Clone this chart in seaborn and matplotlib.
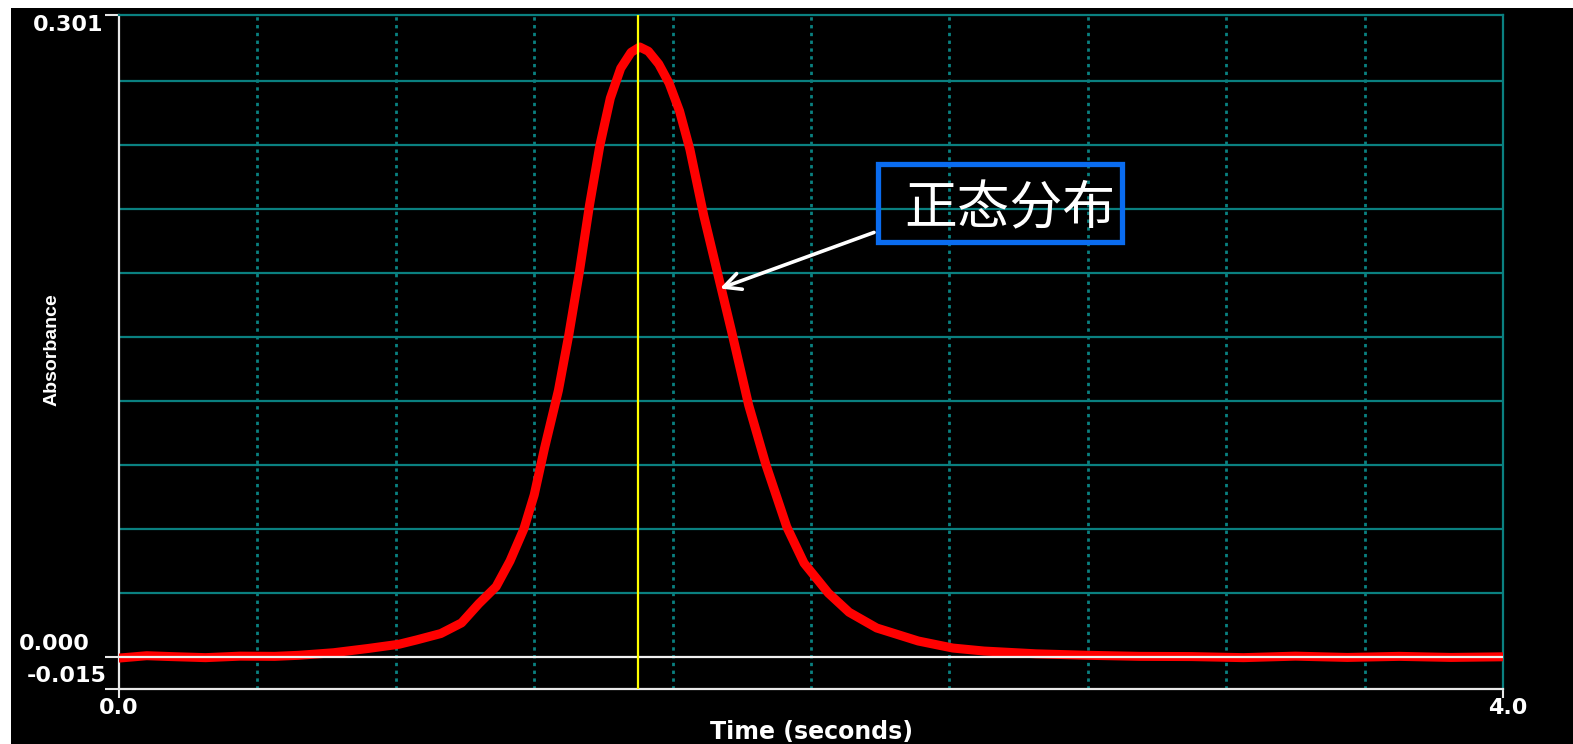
import numpy as np
import pandas as pd
import matplotlib
matplotlib.use("Agg")
import matplotlib.pyplot as plt
from matplotlib.patches import Rectangle
import seaborn as sns

# ---------------- data ----------------
time_s = [0.00, 0.08, 0.15, 0.25, 0.35, 0.45, 0.52, 0.62, 0.72, 0.81, 0.86, 0.93,
          0.99, 1.04, 1.09, 1.13, 1.17, 1.20, 1.23, 1.27, 1.30, 1.33, 1.36, 1.39,
          1.42, 1.45, 1.48, 1.505, 1.53, 1.56, 1.59, 1.62, 1.65, 1.69, 1.73, 1.77,
          1.82, 1.87, 1.93, 1.98, 2.05, 2.11, 2.19, 2.31, 2.41, 2.50, 2.65, 2.80,
          2.95, 3.10, 3.25, 3.40, 3.55, 3.70, 3.85, 4.00]
absorbance = [-0.0005, 0.0006, 0.0002, -0.0003, 0.0004, 0.0003, 0.0008, 0.0020,
              0.0040, 0.0060, 0.0080, 0.0110, 0.0160, 0.0250, 0.0330, 0.0450,
              0.0600, 0.0760, 0.0980, 0.1250, 0.1510, 0.1800, 0.2120, 0.2400,
              0.2620, 0.2760, 0.2835, 0.2860, 0.2840, 0.2780, 0.2690, 0.2560,
              0.2380, 0.2070, 0.1800, 0.1530, 0.1180, 0.0900, 0.0610, 0.0440,
              0.0300, 0.0210, 0.0136, 0.0075, 0.0042, 0.0028, 0.0015, 0.0008,
              0.0003, 0.0002, -0.0003, 0.0004, -0.0002, 0.0003, -0.0002, 0.0001]

y_tick_values = [-0.015, 0.000, 0.301]
y_tick_labels = ["-0.015", "0.000", "0.301"]
x_tick_values = [0.0, 4.0]
x_tick_labels = ["0.0", "4.0"]
h_grid_values = [0.03, 0.06, 0.09, 0.12, 0.15, 0.18, 0.21, 0.24, 0.27]
v_grid_values = [0.4, 0.8, 1.2, 1.6, 2.0, 2.4, 2.8, 3.2, 3.6]
marker_time = 1.5
annotation_text = "正态分布"
x_label = "Time (seconds)"
y_label = "Absorbance"

df = pd.DataFrame({"time": time_s, "absorbance": absorbance})

# ---------------- style ----------------
sns.set_theme(style="dark")
plt.rcParams["font.family"] = ["DejaVu Sans"]

W, H = 1573, 744
fig = plt.figure(figsize=(W / 100, H / 100), dpi=100)
fig.patch.set_facecolor("white")
fig.add_artist(Rectangle((11 / W, 0), 1 - 11 / W, 1 - 8 / H,
                         transform=fig.transFigure, facecolor="black",
                         edgecolor="none", zorder=-10))

x0, x1 = 119, 1503
ytop, ybot = 15, 689
ax = fig.add_axes([x0 / W, 1 - ybot / H, (x1 - x0) / W, (ybot - ytop) / H])
ax.set_facecolor("black")
ax.set_xlim(0, 4.0)
ax.set_ylim(-0.015, 0.301)

teal = "#0a8080"

# grid
ax.set_yticks(h_grid_values, minor=True)
ax.set_xticks(v_grid_values, minor=True)
ax.yaxis.grid(True, which="minor", color=teal, linewidth=1.6, linestyle="-")
ax.xaxis.grid(True, which="minor", color=teal, linewidth=2.0,
              linestyle=(0, (1.2, 1.6)))
ax.yaxis.grid(False, which="major")
ax.xaxis.grid(False, which="major")
ax.set_axisbelow(True)

# curve
sns.lineplot(data=df, x="time", y="absorbance", ax=ax, color="#ff0000",
             linewidth=6.5, sort=True, estimator=None, zorder=3)

# zero line and marker line
ax.axhline(0.0, color="#f0f0f0", linewidth=1.6, zorder=4)
ax.axvline(marker_time, color="#ffff00", linewidth=1.6, zorder=5)

# spines
for side in ["left", "bottom"]:
    ax.spines[side].set_color("#e8e8e8")
    ax.spines[side].set_linewidth(1.6)
for side in ["top", "right"]:
    ax.spines[side].set_color(teal)
    ax.spines[side].set_linewidth(1.6)

# ticks (marks only), labels as text
ax.set_yticks(y_tick_values)
ax.set_yticklabels([])
ax.set_xticks(x_tick_values)
ax.set_xticklabels([])
ax.tick_params(axis="y", which="major", left=True, direction="out",
               length=10, width=1.5, color="#e8e8e8")
ax.tick_params(axis="x", which="major", bottom=True, direction="out",
               length=6.5, width=1.5, color="#e8e8e8")
ax.tick_params(which="minor", length=0)

lab_kw = dict(color="white", fontsize=16, fontweight="bold",
              family=["DejaVu Sans"])
ytrans = ax.get_yaxis_transform()
xtrans = ax.get_xaxis_transform()
ax.text((103 - x0) / (x1 - x0), 0.301 - 10 / 2130, y_tick_labels[2],
        transform=ytrans, ha="right", va="center", clip_on=False, **lab_kw)
ax.text((90 - x0) / (x1 - x0), 12.5 / 2130, y_tick_labels[1],
        transform=ytrans, ha="right", va="center", clip_on=False, **lab_kw)
ax.text((107 - x0) / (x1 - x0), -0.015 + 12.5 / 2130, y_tick_labels[0],
        transform=ytrans, ha="right", va="center", clip_on=False, **lab_kw)
ax.text(x_tick_values[0], (ybot - 708) / (ybot - ytop), x_tick_labels[0],
        transform=xtrans, ha="center", va="center", clip_on=False, **lab_kw)
ax.text(x_tick_values[1] + 5 / 346, (ybot - 708) / (ybot - ytop), x_tick_labels[1],
        transform=xtrans, ha="center", va="center", clip_on=False, **lab_kw)

ax.set_xlabel(x_label, color="white", fontsize=17, fontweight="bold",
              va="center")
ax.xaxis.set_label_coords(0.5, (ybot - 732) / (ybot - ytop))
ax.set_ylabel(y_label, color="white", fontsize=14, fontweight="bold",
              family=["Liberation Sans"], va="center")
ax.yaxis.set_label_coords((52 - x0) / (x1 - x0), (ybot - 350) / (ybot - ytop))

# annotation box + arrow
def px2data(px, py):
    return (px - x0) / 346.0, (656 - py) / 2130.0

bx0, by0 = px2data(878.5, 241.5)
bx1, by1 = px2data(1121.5, 163.5)
ax.add_patch(Rectangle((bx0, by0), bx1 - bx0, by1 - by0, facecolor="none",
                       edgecolor="#0a6cf0", linewidth=3.8, zorder=6))
tx, ty = px2data(1010, 208)
ax.text(tx, ty, annotation_text, color="white", fontsize=38,
        family=["Noto Sans CJK SC", "DejaVu Sans"], fontweight="light",
        ha="center", va="center", zorder=7)
tip = px2data(720, 288)
tail = px2data(874, 232)
ax.annotate("", xy=tip, xytext=tail,
            arrowprops=dict(arrowstyle="->,head_length=1.0,head_width=0.5",
                            color="white", linewidth=2.6,
                            shrinkA=0, shrinkB=0),
            zorder=7)

fig.savefig("out.png", dpi=100, facecolor=fig.get_facecolor())
